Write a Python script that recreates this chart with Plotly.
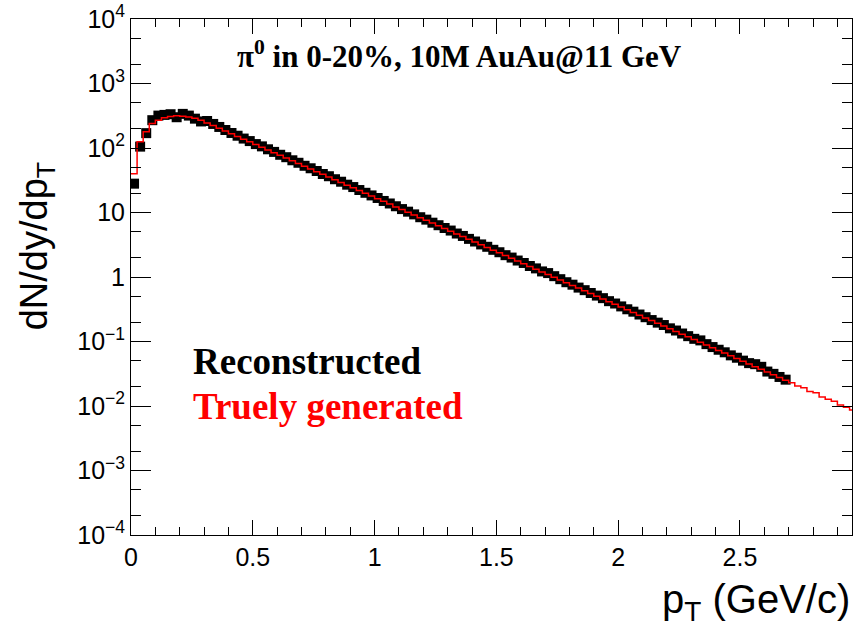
import numpy as np
import plotly.graph_objects as go

# ---------------- data ----------------
BIN_WIDTH = 0.025  # GeV/c

# Truely generated spectrum (red histogram), one value per bin starting at pT = 0
generated = [
    40, 125, 178, 240, 269, 295, 309, 316, 312, 302,
    288, 270, 245, 223, 202, 184, 167, 151, 137, 125,
    113, 103, 93.3, 84.7, 76.9, 69.8, 63.4, 57.5, 52.2, 47.4,
    43.0, 39.1, 35.5, 32.2, 29.2, 26.5, 24.1, 21.9, 19.9, 18.0,
    16.4, 14.9, 13.5, 12.2, 11.1, 10.1, 9.16, 8.32, 7.55, 6.85,
    6.22, 5.65, 5.13, 4.65, 4.23, 3.84, 3.48, 3.16, 2.87, 2.61,
    2.37, 2.15, 1.95, 1.77, 1.61, 1.46, 1.32, 1.20, 1.09, 0.990,
    0.899, 0.817, 0.741, 0.673, 0.611, 0.555, 0.503, 0.457, 0.415, 0.377,
    0.342, 0.310, 0.282, 0.256, 0.232, 0.211, 0.191, 0.174, 0.158, 0.143,
    0.130, 0.118, 0.107, 0.0972, 0.0883, 0.0802, 0.0728, 0.0661, 0.0600, 0.0544,
    0.0494, 0.0449, 0.0407, 0.0370, 0.0336, 0.0305, 0.0277, 0.0251, 0.0230, 0.0205,
    0.0192, 0.0168, 0.0160, 0.0138, 0.0127, 0.0118, 0.0104, 0.0096, 0.0087,
]

# Reconstructed spectrum (black squares), one value per bin starting at pT = 0
reconstructed = [
    28, 105, 170, 270, 318, 326, 334, 300, 338, 318,
    285, 258, 262, 236, 212, 190, 171, 155, 140, 128,
    115, 106, 95.5, 87.0, 78.5, 72.0, 64.5, 59.0, 53.0, 48.5,
    44.0, 39.5, 36.5, 32.8, 30.0, 27.0, 24.8, 22.3, 20.2, 18.4,
    16.8, 15.1, 13.8, 12.5, 11.3, 10.3, 9.35, 8.45, 7.75, 6.95,
    6.35, 5.75, 5.25, 4.72, 4.33, 3.90, 3.55, 3.20, 2.94, 2.64,
    2.42, 2.18, 2.00, 1.80, 1.65, 1.48, 1.36, 1.22, 1.15, 1.03,
    0.925, 0.830, 0.760, 0.685, 0.625, 0.565, 0.515, 0.470, 0.422, 0.388,
    0.350, 0.316, 0.290, 0.262, 0.238, 0.215, 0.196, 0.180, 0.160, 0.148,
    0.133, 0.121, 0.110, 0.104, 0.0910, 0.0820, 0.0745, 0.0680, 0.0610, 0.0560,
    0.0505, 0.0462, 0.0445, 0.0405, 0.0342, 0.0315, 0.0282, 0.0256,
]

x_tick_vals = [0, 0.5, 1, 1.5, 2, 2.5]
x_tick_text = ["0", "0.5", "1", "1.5", "2", "2.5"]
y_tick_vals = [1e-4, 1e-3, 1e-2, 1e-1, 1, 10, 1e2, 1e3, 1e4]
y_tick_text = ["10<sup>\u22124</sup>", "10<sup>\u22123</sup>", "10<sup>\u22122</sup>",
               "10<sup>\u22121</sup>", "1", "10", "10<sup>2</sup>", "10<sup>3</sup>",
               "10<sup>4</sup>"]

title_text = "<b>\u03c0<sup>0</sup> in 0-20%, 10M AuAu@11 GeV</b>"
label_reco = "<b>Reconstructed</b>"
label_gen = "<b>Truely generated</b>"

# ---------------- derived positions ----------------
reco_x = (np.arange(len(reconstructed)) + 0.5) * BIN_WIDTH
gen_edges = np.arange(len(generated) + 1) * BIN_WIDTH
gen_y = list(generated) + [generated[-1]]

SANS = "Liberation Sans, Arial, Helvetica, sans-serif"
SERIF = "Liberation Serif, Times New Roman, serif"

fig = go.Figure()
fig.add_trace(go.Scatter(
    x=reco_x, y=reconstructed, mode="markers",
    marker=dict(symbol="square", size=10, color="black", line=dict(width=0)),
    showlegend=False, hoverinfo="skip",
))
fig.add_trace(go.Scatter(
    x=gen_edges, y=gen_y, mode="lines", line_shape="hv",
    line=dict(color="#ff0000", width=1.5),
    showlegend=False, hoverinfo="skip",
))

axis_common = dict(
    showline=True, linecolor="black", linewidth=1, mirror="allticks",
    ticks="inside", tickcolor="black", tickwidth=1,
    showgrid=False, zeroline=False,
    tickfont=dict(family=SANS, size=25, color="black"),
)

fig.update_xaxes(
    range=[0, 2.96], tickmode="array", tickvals=x_tick_vals, ticktext=x_tick_text,
    ticklen=15,
    minor=dict(ticks="inside", ticklen=8, tick0=0, dtick=0.1, tickcolor="black", showgrid=False),
    **axis_common,
)
fig.update_yaxes(
    type="log", range=[-4, 4], tickmode="array", tickvals=y_tick_vals, ticktext=y_tick_text,
    ticklen=20,
    minor=dict(ticks="inside", ticklen=10, tickcolor="black", showgrid=False),
    **axis_common,
)

fig.update_layout(
    width=854, height=627, autosize=False,
    margin=dict(l=131, r=2, t=19, b=92),
    paper_bgcolor="white", plot_bgcolor="white",
    annotations=[
        dict(text=title_text, xref="paper", yref="paper", x=0.456, y=0.932,
             xanchor="center", yanchor="middle", showarrow=False,
             font=dict(family=SERIF, size=31, color="black")),
        dict(text=label_reco, xref="paper", yref="paper", x=0.083, y=0.337,
             xanchor="left", yanchor="middle", showarrow=False,
             font=dict(family=SERIF, size=37, color="black")),
        dict(text=label_gen, xref="paper", yref="paper", x=0.083, y=0.25,
             xanchor="left", yanchor="middle", showarrow=False,
             font=dict(family=SERIF, size=37, color="#ff0000")),
        dict(text="p<sub>T</sub> (GeV/c)", xref="paper", yref="paper", x=1.0, y=-0.13,
             xanchor="right", yanchor="middle", showarrow=False,
             font=dict(family=SANS, size=40, color="black")),
        dict(text="dN/dy/dp<sub>T</sub>", xref="paper", yref="paper", x=-0.13, y=0.56,
             xanchor="center", yanchor="middle", showarrow=False, textangle=-90,
             font=dict(family=SANS, size=38, color="black")),
    ],
)

fig.write_html("out.html")
